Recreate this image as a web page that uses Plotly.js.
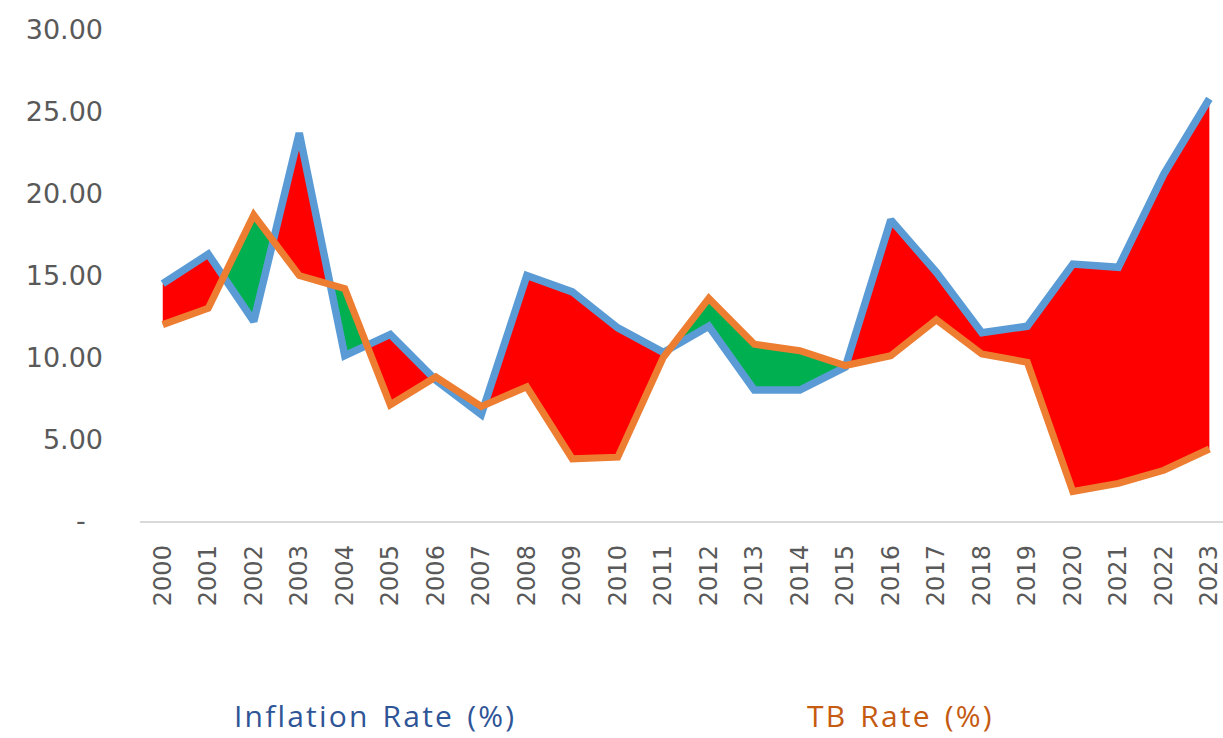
<!DOCTYPE html>
<html>
<head>
<meta charset="utf-8">
<script src="https://cdn.plot.ly/plotly-3.0.1.min.js"></script>
<style>
  html, body { margin: 0; padding: 0; background: #ffffff; }
  #chart { width: 1223px; height: 738px; }
  .annotation-text { letter-spacing: 2.2px !important; word-spacing: 3px !important; }
</style>
</head>
<body>
<div id="chart"></div>
<script>
// ---- data ----
const years = [2000, 2001, 2002, 2003, 2004, 2005, 2006, 2007, 2008, 2009, 2010, 2011,
               2012, 2013, 2014, 2015, 2016, 2017, 2018, 2019, 2020, 2021, 2022, 2023];
const yearLabels = years.map(String);
const inflation = [14.5, 16.3, 12.2, 23.7, 10.1, 11.4, 8.6, 6.5, 15.0, 14.0, 11.8, 10.3,
                   11.9, 8.0, 8.0, 9.4, 18.4, 15.2, 11.5, 11.9, 15.7, 15.5, 21.2, 25.8];
const tbRate = [12.0, 13.0, 18.7, 15.0, 14.2, 7.1, 8.8, 7.0, 8.2, 3.8, 3.9, 10.0,
                13.6, 10.8, 10.4, 9.5, 10.1, 12.3, 10.2, 9.7, 1.8, 2.3, 3.1, 4.4];
const yTickVals = [0, 5, 10, 15, 20, 25, 30];
const yTickText = ['-\u00A0\u00A0', '5.00', '10.00', '15.00', '20.00', '25.00', '30.00'];
const seriesNames = ['Inflation Rate (%)', 'TB Rate (%)'];

// ---- build fill regions between the two series (split at crossings) ----
function buildRegions(x, a, b) {
  const pts = [];
  for (let i = 0; i < x.length; i++) {
    pts.push({x: x[i], a: a[i], b: b[i]});
    if (i < x.length - 1) {
      const d0 = a[i] - b[i], d1 = a[i + 1] - b[i + 1];
      if (d0 * d1 < 0) {
        const t = d0 / (d0 - d1);
        const xc = x[i] + t * (x[i + 1] - x[i]);
        const yc = a[i] + t * (a[i + 1] - a[i]);
        pts.push({x: xc, a: yc, b: yc, cross: true});
      }
    }
  }
  const runs = [];
  let cur = [pts[0]];
  for (let k = 1; k < pts.length; k++) {
    cur.push(pts[k]);
    if (pts[k].cross) { runs.push(cur); cur = [pts[k]]; }
  }
  if (cur.length > 1) runs.push(cur);
  const pos = {x: [], y: []}, neg = {x: [], y: []};
  runs.forEach(run => {
    let s = 0;
    run.forEach(p => { s += p.a - p.b; });
    const target = s >= 0 ? pos : neg;
    run.forEach(p => { target.x.push(p.x); target.y.push(p.a); });
    for (let k = run.length - 1; k >= 0; k--) { target.x.push(run[k].x); target.y.push(run[k].b); }
    target.x.push(null); target.y.push(null);
  });
  return {pos, neg};
}
const regions = buildRegions(years, inflation, tbRate);

const traces = [
  {x: regions.pos.x, y: regions.pos.y, mode: 'lines', fill: 'toself', fillcolor: '#FF0000',
   line: {width: 0, color: 'rgba(0,0,0,0)'}, hoverinfo: 'skip', showlegend: false, connectgaps: false},
  {x: regions.neg.x, y: regions.neg.y, mode: 'lines', fill: 'toself', fillcolor: '#00B050',
   line: {width: 0, color: 'rgba(0,0,0,0)'}, hoverinfo: 'skip', showlegend: false, connectgaps: false},
  {x: years, y: inflation, name: seriesNames[0], mode: 'lines',
   line: {color: '#5B9BD5', width: 7.5}, showlegend: false},
  {x: years, y: tbRate, name: seriesNames[1], mode: 'lines',
   line: {color: '#ED7D31', width: 7}, showlegend: false}
];

const layout = {
  width: 1223, height: 738,
  margin: {l: 140, r: 0, t: 30, b: 217},
  paper_bgcolor: '#ffffff', plot_bgcolor: '#ffffff',
  showlegend: false,
  xaxis: {
    type: 'linear', range: [1999.5, 2023.3],
    tickvals: years, ticktext: yearLabels, tickangle: -90,
    showgrid: false, zeroline: false, showline: true,
    linecolor: '#D9D9D9', linewidth: 1.5, ticks: '',
    ticklabelstandoff: 13, ticklabeloverflow: 'allow',
    tickfont: {family: 'DejaVu Sans', size: 24, color: '#595959'}
  },
  yaxis: {
    range: [0, 30], tickvals: yTickVals, ticktext: yTickText,
    showgrid: false, zeroline: false, showline: false, ticks: '',
    ticklabelstandoff: 36,
    tickfont: {family: 'DejaVu Sans', size: 27, color: '#595959'}
  },
  annotations: [
    {text: seriesNames[0], xref: 'paper', yref: 'paper', x: 0.085, y: -0.397,
     xanchor: 'left', yanchor: 'middle', showarrow: false,
     font: {family: 'Open Sans', size: 30, color: '#2F5597'}},
    {text: seriesNames[1], xref: 'paper', yref: 'paper', x: 0.614, y: -0.397,
     xanchor: 'left', yanchor: 'middle', showarrow: false,
     font: {family: 'Open Sans', size: 30, color: '#C55A11'}}
  ]
};

Plotly.newPlot('chart', traces, layout, {displayModeBar: false, staticPlot: true});
</script>
</body>
</html>
